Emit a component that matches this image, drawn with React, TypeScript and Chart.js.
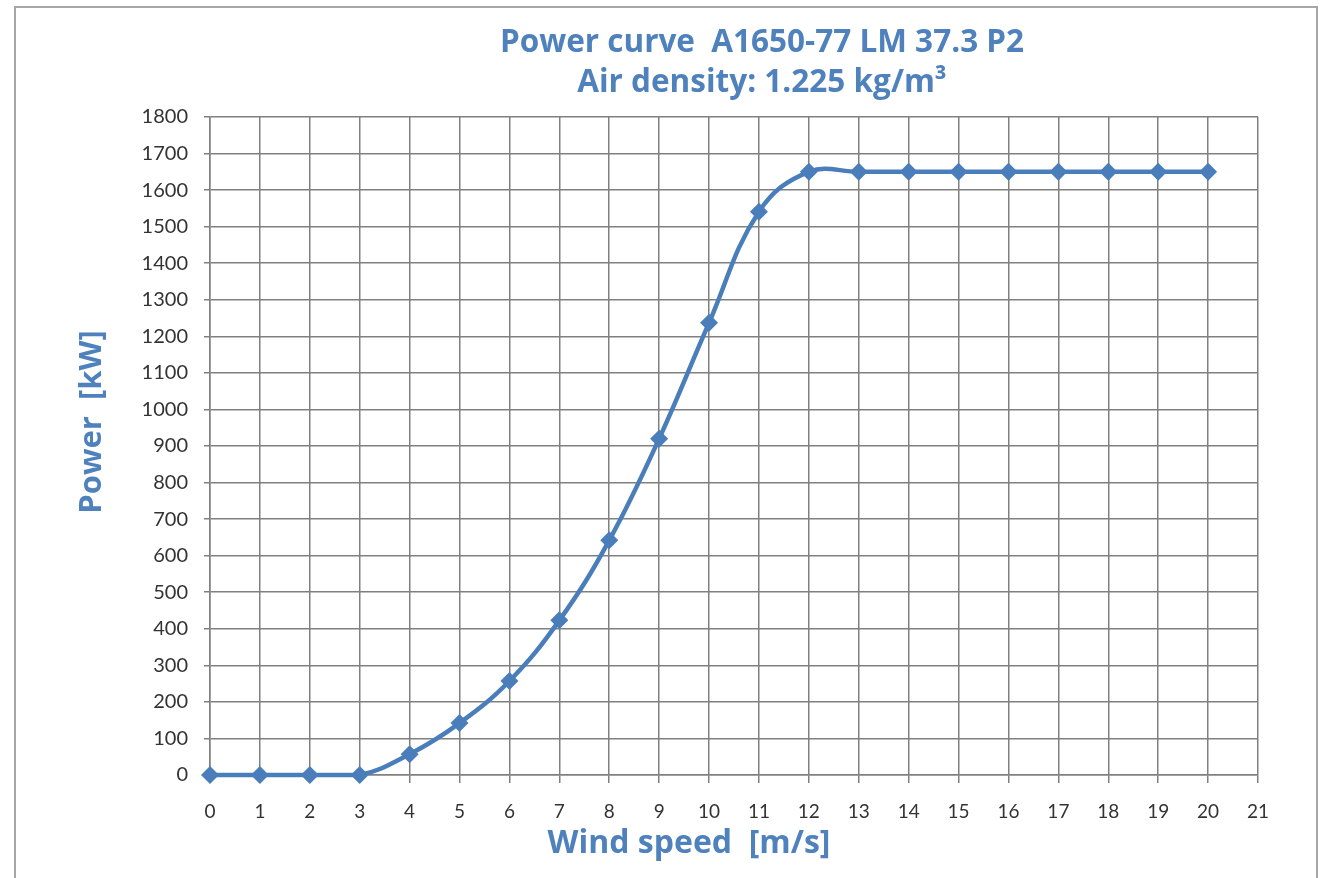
import React, { useEffect, useRef } from "react";
import { Chart, registerables } from "chart.js";

Chart.register(...registerables);

const windSpeed = [0, 1, 2, 3, 4, 5, 6, 7, 8, 9, 10, 11, 12, 13, 14, 15, 16, 17, 18, 19, 20];
const power = [0, 0, 0, 0, 57, 142, 257, 423, 642, 920, 1237, 1541, 1650, 1650, 1650, 1650, 1650, 1650, 1650, 1650, 1650];
const xRange = [0, 21];
const yRange = [0, 1800];
const xStep = 1;
const yStep = 100;
const titleLines = ["Power curve  A1650-77 LM 37.3 P2", "Air density: 1.225 kg/m\u00B3"];
const xTitle = "Wind speed  [m/s]";
const yTitle = "Power  [kW]";

const BLUE = "#4A7EBB";
const TITLE_BLUE = "#4F81BD";
const TICK_FONT = "Lato, 'Open Sans', sans-serif";
const TITLE_FONT = "'Open Sans', Lato, sans-serif";

const W = 1325;
const H = 878;

const decorPlugin = {
  id: "decor",
  beforeDraw(chart: any) {
    const ctx = chart.ctx;
    ctx.save();
    ctx.fillStyle = "#ffffff";
    ctx.fillRect(0, 0, W, H);
    ctx.strokeStyle = "#a6a6a6";
    ctx.lineWidth = 2;
    ctx.strokeRect(15, 7, 1302, 900);
    ctx.restore();
  },
  afterDraw(chart: any) {
    const ctx = chart.ctx;
    const area = chart.chartArea;
    ctx.save();
    ctx.fillStyle = TITLE_BLUE;
    ctx.textAlign = "center";
    ctx.textBaseline = "middle";
    ctx.font = `bold 31.5px ${TITLE_FONT}`;
    const tx = area.left + 552;
    ctx.fillText(titleLines[0], tx, 43);
    ctx.fillText(titleLines[1], tx, 83);
    // x title
    ctx.font = `bold 32px ${TITLE_FONT}`;
    ctx.fillText(xTitle, 689, 844);
    // y title
    ctx.translate(92, 422);
    ctx.rotate(-Math.PI / 2);
    ctx.font = `bold 31px ${TITLE_FONT}`;
    ctx.fillText(yTitle, 0, 0);
    ctx.restore();
  },
};

export default function App() {
  const ref = useRef<HTMLCanvasElement | null>(null);
  useEffect(() => {
    if (!ref.current) return;
    const chart = new Chart(ref.current, {
      type: "line",
      data: {
        datasets: [
          {
            label: "Power",
            data: windSpeed.map((x, i) => ({ x, y: power[i] })),
            borderColor: BLUE,
            backgroundColor: BLUE,
            borderWidth: 4.5,
            pointStyle: "rectRot",
            pointRadius: 9,
            pointBorderWidth: 0,
            pointBackgroundColor: BLUE,
            tension: 0.4,
            fill: false,
            clip: false,
          },
        ],
      },
      options: {
        responsive: false,
        animation: false,
        devicePixelRatio: 1,
        layout: { padding: { left: 0, top: 117, right: 67, bottom: 0 } },
        plugins: {
          legend: { display: false },
          title: { display: false },
          tooltip: { enabled: false },
        },
        scales: {
          x: {
            type: "linear",
            min: xRange[0],
            max: xRange[1],
            afterFit(scale: any) {
              scale.height = 103;
            },
            ticks: {
              stepSize: xStep,
              color: "#333333",
              font: { family: TICK_FONT, size: 19 },
              padding: 17,
              maxRotation: 0,
              callback: (v: any) => String(v),
            },
            grid: {
              color: "#808080",
              lineWidth: 1.5,
              tickLength: 8,
              drawTicks: true,
            },
            border: { color: "#808080", width: 1.5 },
          },
          y: {
            type: "linear",
            min: yRange[0],
            max: yRange[1],
            afterFit(scale: any) {
              scale.width = 210;
            },
            ticks: {
              stepSize: yStep,
              color: "#333333",
              font: { family: TICK_FONT, size: 20 },
              padding: 16,
              callback: (v: any) => String(v),
            },
            grid: {
              color: "#808080",
              lineWidth: 1.5,
              tickLength: 6,
            },
            border: { color: "#808080", width: 1.5 },
          },
        },
      },
      plugins: [decorPlugin],
    });
    return () => chart.destroy();
  }, []);
  return (
    <div style={{ position: "fixed", left: 0, top: 0, width: W, height: H, background: "#fff" }}>
      <canvas ref={ref} width={W} height={H} style={{ width: W, height: H, display: "block" }} />
    </div>
  );
}
